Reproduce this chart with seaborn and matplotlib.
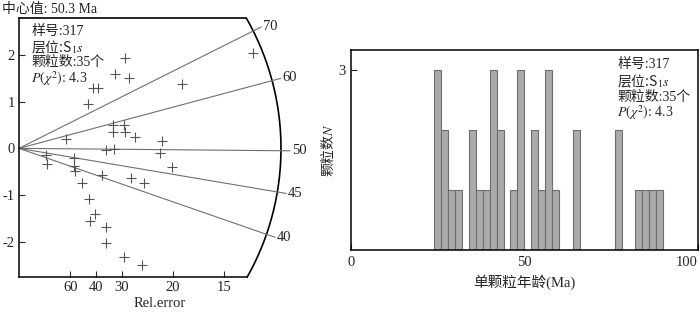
import numpy as np
import pandas as pd
import matplotlib
matplotlib.use('Agg')
import matplotlib.pyplot as plt
import seaborn as sns

# Radial plot data: precision (1/rel.error) and standardised estimate
precision = [7.60, 3.44, 3.12, 3.57, 5.29, 2.40, 2.56, 2.24, 3.05, 3.41,
             3.05, 3.44, 3.77, 1.53, 2.82, 3.08, 4.64, 4.58, 0.88, 0.91,
             1.79, 1.79, 1.82, 2.05, 2.69, 3.64, 4.06, 4.97, 2.27, 2.47,
             2.31, 2.82, 2.82, 3.41, 3.99]
z_score = [2.05, 1.94, 1.60, 1.51, 1.38, 1.29, 1.29, 0.95, 0.51, 0.50,
           0.35, 0.35, 0.25, 0.20, -0.03, -0.01, 0.16, -0.10, -0.14, -0.33,
           -0.20, -0.37, -0.48, -0.74, -0.57, -0.63, -0.74, -0.40, -1.08, -1.40,
           -1.55, -1.68, -2.02, -2.32, -2.49]
central_age = 50.3
ref_ages = [70, 60, 50, 45, 40]
relerr_ticks = [60, 40, 30, 20, 15]

# Histogram data: bin mid ages (Ma) and grain counts
bin_mid = [25, 27, 29, 31, 35, 37, 39, 41, 43, 47, 49, 53, 55, 57, 59, 65, 77, 83, 85, 87, 89]
counts = [3, 2, 1, 1, 2, 1, 1, 3, 2, 1, 3, 2, 1, 3, 1, 2, 2, 1, 1, 1, 1]

sns.set_style('ticks')
plt.rcParams['font.family'] = ['Liberation Serif', 'Noto Sans CJK SC']
plt.rcParams['mathtext.fontset'] = 'stix'
plt.rcParams['axes.unicode_minus'] = False

W, H = 700, 315
fig = plt.figure(figsize=(W / 100, H / 100), dpi=100)

# ---------- left: radial plot ----------
ax_w, ax_h = 281, 259.3
ax1 = fig.add_axes([19 / W, 1 - 277.3 / H, ax_w / W, ax_h / H])
xmax, ymin, ymax = 9.12, -2.76, 2.79
sx = ax_w / xmax
sy = ax_h / (ymax - ymin)

df = pd.DataFrame({'x': precision, 'z': z_score})
sns.scatterplot(data=df, x='x', y='z', marker='+', s=55, color='#555555',
                linewidth=0.8, ax=ax1, zorder=3)

# outer arc + top edge
R = 262
phi_top = np.arcsin(ymax * sy / R)
phi_bot = -np.arcsin(-ymin * sy / R)
phis = np.linspace(phi_bot, phi_top, 200)
ax1.plot(R * np.cos(phis) / sx, R * np.sin(phis) / sy, color='k', lw=1.2, clip_on=False)
ax1.plot([0, R * np.cos(phi_top) / sx], [ymax, ymax], color='k', lw=1.2, clip_on=False)

# age reference lines
for t in ref_ages:
    phi = np.arctan(np.log(t / central_age) * sy / sx)
    r_end = R + 9
    ax1.plot([0, r_end * np.cos(phi) / sx], [0, r_end * np.sin(phi) / sy],
             color='#707070', lw=0.8, clip_on=False)
    r_lab = R + 11
    ax1.text(r_lab * np.cos(phi) / sx, r_lab * np.sin(phi) / sy, str(t),
             ha='left', va='center', fontsize=10.5)

ax1.set_xlim(0, xmax)
ax1.set_ylim(ymin, ymax)
ax1.spines['top'].set_visible(False)
ax1.spines['right'].set_visible(False)
ax1.spines['bottom'].set_bounds(0, R * np.cos(phi_bot) / sx)
for s in ['left', 'bottom']:
    ax1.spines[s].set_linewidth(1.1)
    ax1.spines[s].set_color('k')
ax1.set_xticks(100 / np.array(relerr_ticks, dtype=float))
ax1.set_xticklabels([str(v) for v in relerr_ticks])
ax1.set_yticks([-2, -1, 0, 1, 2])
ax1.tick_params(direction='in', length=4, width=0.8, labelsize=10.5, pad=3)
ax1.set_xlabel('Rel.error', fontsize=10.5, labelpad=2)
ax1.set_ylabel('')

fig.text(2 / W, 1 - 9 / H, '中心值: 50.3 Ma', ha='left', va='center', fontsize=10)

info_y = [0.95, 0.888, 0.828, 0.765]
ax1.text(0.043, info_y[0], '样号:317', transform=ax1.transAxes, va='center', fontsize=10)
ax1.text(0.043, info_y[1], r'层位:S$_{1}s$', transform=ax1.transAxes, va='center',
         fontsize=10, family='Noto Sans CJK SC')
ax1.text(0.043, info_y[2], '颗粒数:35个', transform=ax1.transAxes, va='center', fontsize=10)
ax1.text(0.043, info_y[3], r'$P(\chi^2)$: 4.3', transform=ax1.transAxes, va='center', fontsize=10)

# ---------- right: histogram ----------
ax2 = fig.add_axes([350.7 / W, 1 - 250 / H, 347.3 / W, 200 / H])
hist_df = pd.DataFrame({'age': bin_mid, 'n': counts})
sns.histplot(data=hist_df, x='age', weights='n', binwidth=2, binrange=(0, 100),
             color='#aaaaaa', edgecolor='#6e6e6e', linewidth=0.8, alpha=1, ax=ax2)
ax2.set_xlim(0, 100)
ax2.set_ylim(0, 3.34)
ax2.set_xticks([0, 50, 100])
ax2.set_yticks([3])
ax2.tick_params(direction='in', length=4, width=0.8, labelsize=10.5, pad=4)
ax2.get_xticklabels()[-1].set_horizontalalignment('right')
for s in ax2.spines.values():
    s.set_linewidth(1.1)
    s.set_color('k')
ax2.set_xlabel('单颗粒年龄(Ma)', fontsize=10.5, labelpad=4)
ax2.set_ylabel(r'颗粒数$N$', fontsize=10, family='Noto Sans CJK SC', labelpad=1)

info_y2 = [0.93, 0.845, 0.765, 0.685]
ax2.text(0.767, info_y2[0], '样号:317', transform=ax2.transAxes, va='center', fontsize=10)
ax2.text(0.767, info_y2[1], r'层位:S$_{1}s$', transform=ax2.transAxes, va='center',
         fontsize=10, family='Noto Sans CJK SC')
ax2.text(0.767, info_y2[2], '颗粒数:35个', transform=ax2.transAxes, va='center', fontsize=10)
ax2.text(0.767, info_y2[3], r'$P(\chi^2)$: 4.3', transform=ax2.transAxes, va='center', fontsize=10)

fig.savefig('out.png', dpi=100)
